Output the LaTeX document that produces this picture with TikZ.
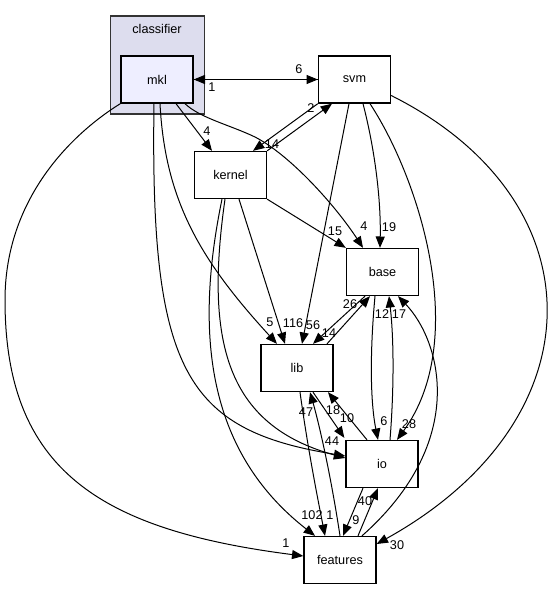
\documentclass[tikz,border=0pt]{standalone}
\usepackage{fontspec}
\setsansfont{Liberation Sans}
\usepackage{xcolor}
\usepackage{tikz}
\usetikzlibrary{calc,positioning,arrows.meta}
\definecolor{clusterfill}{HTML}{DDDDEE}
\definecolor{mklfill}{HTML}{EEEEFF}

\begin{document}
\begin{tikzpicture}[x=0.75pt,y=-0.75pt,
        font=\sffamily\fontsize{9.5}{11}\selectfont,
        dir/.style={draw=black, line width=1pt, fill=white, minimum width=54pt, minimum height=35.25pt, inner sep=0pt},
        dep/.style={-{Triangle[length=8.5pt,width=6.8pt]}, line width=0.75pt},
        lbl/.style={inner sep=0pt}]
        \useasboundingbox (0,0) rectangle (552,589);

        \draw [black!80, line width=1pt, fill=clusterfill] (110.5,16) rectangle (204.5,114); % classifier
        \node (classifier) at (157,29) {classifier};

        \node [dir, fill=mklfill] (mkl) at (157,79.5) {mkl};
        \node [dir] (svm) at (354.5,79.5) {svm};
        \node [dir] (kernel) at (230.5,175) {kernel};
        \node [dir] (base) at (382.5,272) {base};
        \node [dir] (lib) at (297,368) {lib};
        \node [dir] (io) at (382,464) {io};
        \node [dir] (features) at (340,560) {features};

        % mkl
        \draw [dep] (mkl.east) -- (svm.west) node [lbl] (l1) at (299,69) {6};
        \draw [dep] (svm.west) -- (mkl.east) node [lbl] (l2) at (212,87) {1};
        \draw [dep] ($(mkl.south)+(19,0)$) -- ($(kernel.north)+(-18.5,0)$) node [lbl] (l3) at (207,131) {4};
        \draw [dep] ($(mkl.south)+(28,0)$) .. controls (200,118) and (230,125) .. (255,137) .. controls (290,155) and (335,205) .. ($(base.north)+(-19.5,0)$) node [lbl] (l4) at (364,226) {4};
        \draw [dep] ($(mkl.south)+(3,0)$) .. controls (165,200) and (200,260) .. ($(lib.north)+(-20,0)$) node [lbl] (l5) at (270,322) {5};
        \draw [dep] ($(mkl.south)+(-3,0)$) .. controls (150,370) and (185,430) .. ($(io.west)+(0,-8)$);
        \draw [dep] (mkl.south west) .. controls (70,135) and (5,200) .. (5,300) .. controls (5,470) and (100,530) .. ($(features.west)+(0,-4)$) node [lbl] (l6) at (286,543) {1};

        % kernel
        \draw [dep] (kernel.north east) -- ($(svm.south)+(-22.5,0)$) node [lbl] (l7) at (311,108) {2};
        \draw [dep] (kernel.south east) -- (base.north west) node [lbl] (l8) at (335,231) {15};
        \draw [dep] ($(kernel.south)+(8.5,0)$) -- ($(lib.north)+(-12,0)$) node [lbl] (l9) at (293,323) {116};
        \draw [dep] ($(kernel.south)+(-5.5,0)$) .. controls (205,340) and (225,425) .. ($(io.west)+(0,-6)$) node [lbl] (l10) at (332,441) {44};
        \draw [dep] ($(kernel.south)+(-8.5,0)$) .. controls (195,330) and (205,450) .. ($(features.north)+(-25,0)$) node [lbl] (l11) at (312,515) {102};

        % svm
        \draw [dep] (svm.south west) -- ($(kernel.north)+(22.5,0)$) node [lbl] (l12) at (272,144) {14};
        \draw [dep] ($(svm.south)+(-5.5,0)$) -- ($(lib.north)+(5,0)$) node [lbl] (l13) at (313,325) {56};
        \draw [dep] ($(svm.south)+(8.5,0)$) .. controls (375,150) and (381,200) .. ($(base.north)+(-2.5,0)$) node [lbl] (l14) at (389,227) {19};
        \draw [dep] ($(svm.south)+(15.5,0)$) .. controls (420,180) and (470,340) .. ($(io.north)+(15,0)$) node [lbl] (l15) at (409,424) {28};
        \draw [dep] ($(svm.east)+(0,16)$) .. controls (600,200) and (600,420) .. ($(features.east)+(0,-16)$) node [lbl] (l16) at (397,545) {30};

        % base
        \draw [dep] ($(base.south)+(-17.5,0)$) -- ($(lib.north)+(16,0)$) node [lbl] (l17) at (329,333) {14};
        \draw [dep] ($(base.south)+(-7.5,0)$) .. controls (370,350) and (370,400) .. ($(io.north)+(-4,0)$) node [lbl] (l18) at (384,421) {6};

        % lib
        \draw [dep] ($(lib.north)+(30,0)$) -- ($(base.south)+(-12.5,0)$) node [lbl] (l19) at (350,304) {26};
        \draw [dep] ($(lib.south)+(16,0)$) -- ($(io.north west)+(-1,-2)$) node [lbl] (l20) at (347,418) {10};
        \draw [dep] ($(lib.south)+(3,0)$) .. controls (308,450) and (318,500) .. ($(features.north)+(-15,0)$) node [lbl] (l21) at (330,515) {1};

        % io
        \draw [dep] ($(io.north)+(-15,0)$) -- ($(lib.south)+(31,0)$) node [lbl] (l22) at (333,410) {18};
        \draw [dep] ($(io.north)+(8,0)$) .. controls (394,390) and (394,340) .. ($(base.south)+(6.5,0)$) node [lbl] (l23) at (382,314) {12};
        \draw [dep] ($(io.south)+(-19,0)$) -- ($(features.north)+(3,0)$) node [lbl] (l24) at (356,520) {9};

        % features
        \draw [dep] (features.north) .. controls (330,470) and (318,420) .. ($(lib.south)+(13,0)$) node [lbl] (l25) at (306,412) {47};
        \draw [dep] ($(features.north)+(18,0)$) -- ($(io.south)+(-4,0)$) node [lbl] (l26) at (365,501) {40};
        \draw [dep] ($(features.north)+(22,0)$) .. controls (470,440) and (440,340) .. ($(base.south)+(15.5,0)$) node [lbl] (l27) at (399,314) {17};

    \end{tikzpicture}
\end{document}
